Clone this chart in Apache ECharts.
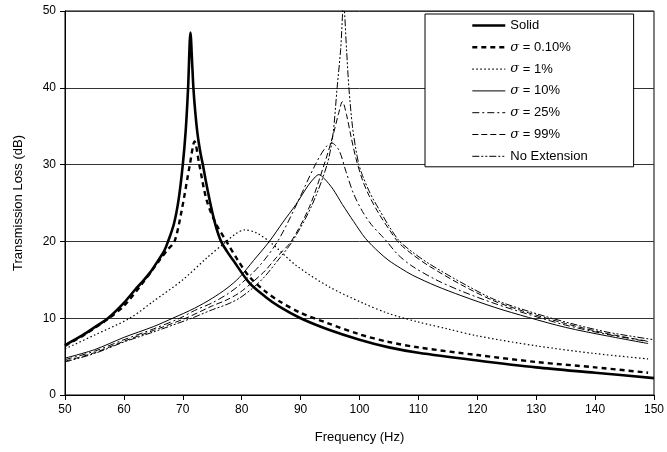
<!DOCTYPE html>
<html>
<head>
<meta charset="utf-8">
<script src="https://cdn.jsdelivr.net/npm/echarts@6/dist/echarts.min.js"></script>
<style>
    html, body { margin: 0; padding: 0; background: #fff; }
    #chart { width: 667px; height: 452px; }
</style>
</head>
<body>
<div id="chart"></div>
<script>
// values (Hz, dB)
var solidFreq = [50, 53, 55, 57.3, 60, 62, 63.2, 64.5, 65.8, 66.8, 67.5, 68.5, 69.3, 70, 70.5, 70.9, 71.3, 71.6, 71.8, 72.1, 72.5, 73.0, 73.4, 74, 74.8, 75.6, 76.5, 77.5, 78.5, 81.3, 84, 86.4, 90, 94.8, 100, 105, 110, 120, 130, 140, 150];
var solidLoss = [6.5, 7.8, 8.8, 10, 12.0, 13.8, 14.8, 16.0, 17.5, 18.7, 20, 22.3, 25.5, 30, 34.5, 40, 47.2, 43, 40, 37, 34, 31.5, 30, 27.5, 24.5, 22, 20, 18.7, 17.6, 14.6, 12.8, 11.5, 10.0, 8.5, 7.2, 6.2, 5.5, 4.5, 3.6, 2.9, 2.2];

var sig010Freq = [50, 53, 55, 57.3, 60, 63.2, 66.1, 67.5, 68.6, 69.8, 71.2, 72.0, 72.8, 74, 75.5, 77.4, 79.3, 81.3, 84, 86.4, 90, 94.8, 100, 105, 110, 120, 130, 140, 149];
var sig010Loss = [6.4, 7.7, 8.7, 9.9, 11.6, 14.6, 17.6, 19.0, 20, 24, 30, 33, 30, 25.5, 22.5, 20, 17.6, 15.4, 13.5, 12.2, 10.7, 9.3, 7.9, 6.9, 6.2, 5.2, 4.3, 3.6, 2.9];

var sig1Freq = [50, 55, 61, 65, 70, 74, 77.4, 79, 80.5, 82.5, 85, 89.2, 94.8, 100.5, 105, 110, 115, 120, 130, 140, 149];
var sig1Loss = [6.0, 7.8, 10, 12.2, 15.0, 17.8, 20, 21, 21.5, 21.1, 19.8, 16.9, 14.1, 12.0, 10.6, 9.5, 8.6, 7.7, 6.4, 5.4, 4.7];

var sig10Freq = [50, 55, 60, 65, 68.3, 72, 75, 77.5, 79.6, 82, 84.7, 87, 89.2, 91.3, 92.5, 93.1, 94, 95.5, 97.1, 99, 101, 103.3, 105, 107, 109, 113, 117.4, 123, 128.7, 135, 142, 149];
var sig10Loss = [4.8, 5.9, 7.5, 8.9, 10, 11.3, 12.6, 13.9, 15.3, 17.5, 20, 22.5, 24.8, 27.3, 28.4, 28.7, 28.2, 26.8, 24.8, 22.6, 20.4, 18.6, 17.5, 16.5, 15.6, 14.2, 12.9, 11.4, 10.1, 8.8, 7.7, 6.7];

var sig25Freq = [50, 55, 60, 65, 69.5, 72, 75, 77.5, 79.6, 83, 86.1, 89, 92.5, 94.3, 95.3, 96.5, 97.7, 99, 100.5, 102, 103.3, 104.4, 106.5, 108.9, 113, 117.4, 123, 128.7, 135, 142, 149];
var sig25Loss = [4.6, 5.7, 7.2, 8.6, 10, 11.0, 12.0, 13.1, 14.3, 16.8, 20, 24.3, 30, 32.3, 32.8, 31.9, 29.1, 26.2, 23.9, 22.2, 21.1, 20.2, 18.3, 16.8, 15.0, 13.5, 11.9, 10.5, 9.1, 7.9, 6.95];

var sig99Freq = [50, 55, 60, 65, 70.5, 75, 77.5, 79.6, 82, 84, 86, 88.4, 91.5, 94, 95.5, 96.4, 97.1, 97.8, 98.6, 99.4, 100.5, 101.6, 103.3, 105, 106.7, 109, 111.8, 117.4, 123, 128.7, 135, 142, 149];
var sig99Loss = [4.4, 5.5, 7.0, 8.4, 10, 11.6, 12.4, 13.3, 14.8, 16.2, 18.0, 20, 24.5, 30, 33.8, 36.5, 38.2, 36.5, 33.5, 30.8, 28.0, 26.0, 23.6, 21.6, 19.8, 18.3, 16.8, 14.3, 12.2, 10.7, 9.3, 8.0, 7.0];

var noExtFreq = [50, 55, 60, 65, 71.5, 75, 77.5, 79.6, 82, 84, 86, 88.6, 91.8, 94.5, 95.5, 96.2, 96.8, 97.3, 97.8, 98.2, 98.8, 99.4, 99.9, 100.5, 101.6, 102.4, 103.3, 105, 106.7, 109, 111.8, 117.4, 123, 128.7, 135, 142, 150];
var noExtLoss = [4.3, 5.4, 6.9, 8.2, 10, 11.1, 11.8, 12.6, 14.0, 15.5, 17.4, 20, 24.5, 30, 34, 40, 45, 51, 45, 40, 35, 31.9, 30.0, 28.6, 26.6, 25.4, 24.2, 22.0, 20.1, 18.6, 17.1, 14.6, 12.4, 10.9, 9.5, 8.2, 7.2];

var seriesNames = ['Solid', 'σ = 0.10%', 'σ = 1%', 'σ = 10%', 'σ = 25%', 'σ = 99%', 'No Extension'];
var xTicks = [50, 150, 10];
var yTicks = [0, 50, 10];

// line look of each series, same order as seriesNames
var lineWidths = [2.6, 2.4, 1.2, 1, 1, 1, 1];
var lineTypes = ['solid', [5, 4], [1.5, 2.5], 'solid', [7, 3, 2, 3], [6, 3], [7, 2, 2, 2, 2, 2]];

var FONT = '"Liberation Sans", Arial, sans-serif';

function pairs(xs, ys) {
    return xs.map(function (x, i) { return [x, ys[i]]; });
}

function makeLine(i, xs, ys) {
    return {
        name: seriesNames[i],
        type: 'line',
        data: pairs(xs, ys),
        showSymbol: false,
        symbol: 'none',
        smooth: 0.3,
        lineStyle: { color: '#000', width: lineWidths[i], type: lineTypes[i] },
        itemStyle: { color: '#000' },
        emphasis: { disabled: true }
    };
}

var myChart = echarts.init(document.getElementById('chart'), null, { renderer: 'canvas' });

var option = {
    animation: false,
    backgroundColor: '#fff',
    textStyle: { fontFamily: FONT },
    grid: {
        left: 65, right: 11, top: 11, bottom: 57,
        show: true, borderColor: '#000', borderWidth: 1, backgroundColor: 'transparent'
    },
    legend: {
        orient: 'vertical',
        left: 425, top: 14,
        padding: [5, 46, 4, 46],
        itemWidth: 33, itemHeight: 14, itemGap: 8.8,
        align: 'left',
        backgroundColor: '#fff',
        borderColor: '#000', borderWidth: 1,
        // legend lines default to width 2, so give each its own width
        data: seriesNames.map(function (n, i) {
            return { name: n, lineStyle: { width: lineWidths[i] } };
        }),
        // hide the round marker that line series put in their legend icon
        itemStyle: { opacity: 0 },
        formatter: function (name) {
            return name.replace('σ', '{i|σ}');
        },
        textStyle: {
            fontFamily: FONT, fontSize: 13, color: '#000',
            rich: { i: { fontFamily: '"DejaVu Serif", serif', fontStyle: 'italic', fontSize: 13, color: '#000' } }
        }
    },
    xAxis: {
        type: 'value',
        min: xTicks[0], max: xTicks[1], interval: xTicks[2],
        name: 'Frequency (Hz)',
        nameLocation: 'middle', nameGap: 36,
        nameTextStyle: { fontFamily: FONT, fontSize: 13, color: '#000' },
        axisLine: { onZero: false, lineStyle: { color: '#000', width: 1 } },
        axisTick: { show: true, length: 5, lineStyle: { color: '#000' } },
        axisLabel: { fontFamily: FONT, fontSize: 12, color: '#000', margin: 9 },
        splitLine: { show: false }
    },
    yAxis: {
        type: 'value',
        min: yTicks[0], max: yTicks[1], interval: yTicks[2],
        name: 'Transmission Loss (dB)',
        nameLocation: 'middle', nameGap: 40,
        nameTextStyle: { fontFamily: FONT, fontSize: 13, color: '#000' },
        axisLine: { show: true, lineStyle: { color: '#000', width: 1 } },
        axisTick: { show: true, length: 5, lineStyle: { color: '#000' } },
        axisLabel: { fontFamily: FONT, fontSize: 12, color: '#000', margin: 9 },
        splitLine: { show: true, lineStyle: { color: '#333', width: 1 } }
    },
    series: [
        makeLine(0, solidFreq, solidLoss),
        makeLine(1, sig010Freq, sig010Loss),
        makeLine(2, sig1Freq, sig1Loss),
        makeLine(3, sig10Freq, sig10Loss),
        makeLine(4, sig25Freq, sig25Loss),
        makeLine(5, sig99Freq, sig99Loss),
        makeLine(6, noExtFreq, noExtLoss)
    ]
};

myChart.setOption(option);
</script>
</body>
</html>
